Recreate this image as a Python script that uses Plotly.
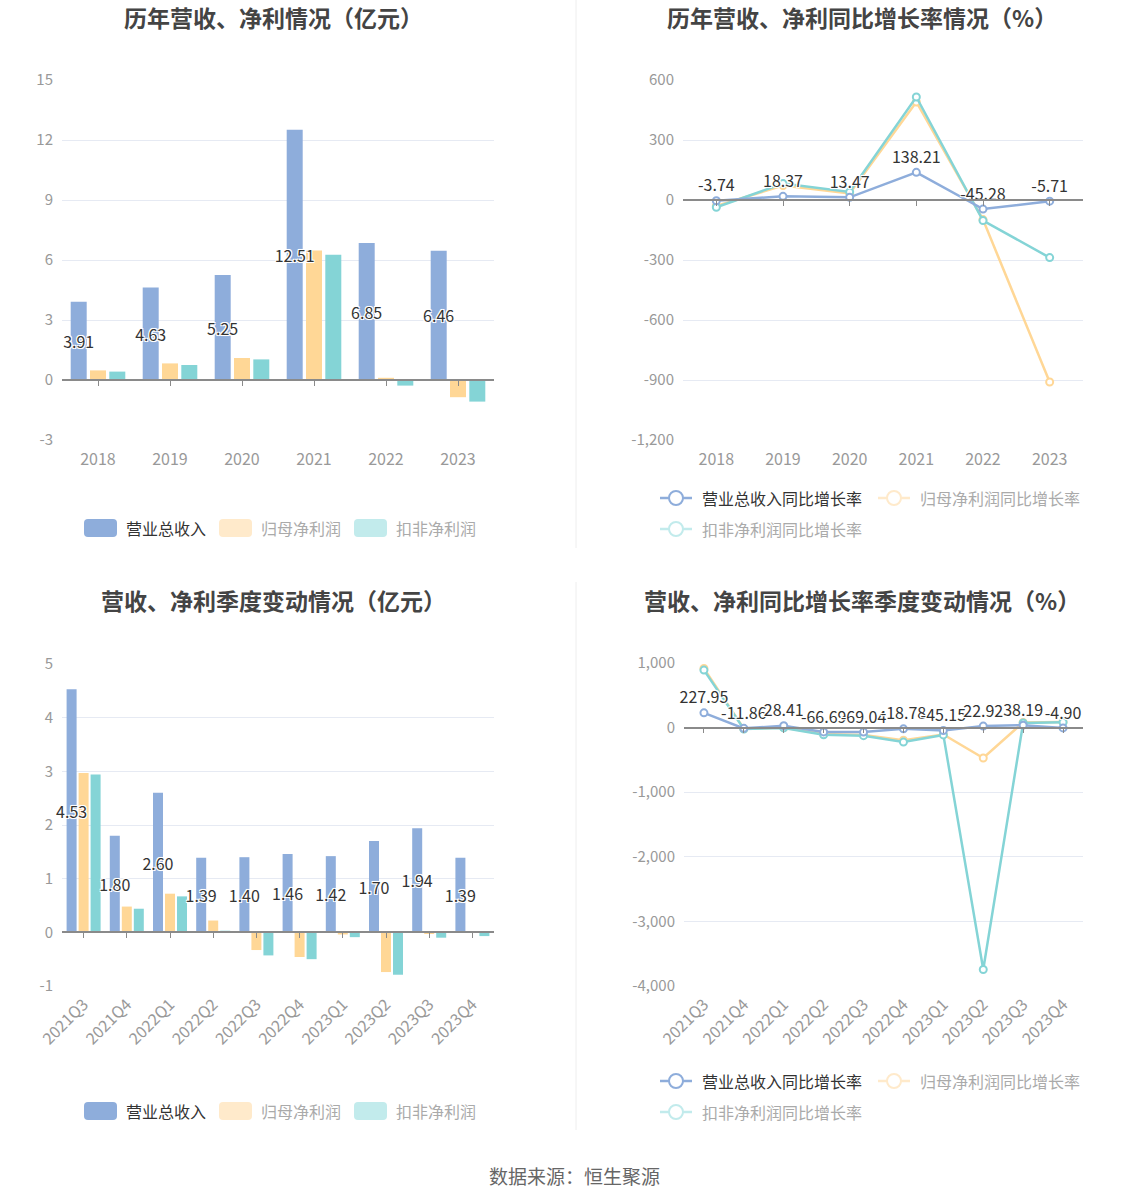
import plotly.graph_objects as go

# ---------------- data ----------------
years = ["2018", "2019", "2020", "2021", "2022", "2023"]
rev_annual = [3.91, 4.63, 5.25, 12.51, 6.85, 6.46]
np_annual = [0.48, 0.83, 1.10, 6.47, 0.11, -0.86]
dnp_annual = [0.42, 0.75, 1.03, 6.26, -0.28, -1.08]

rev_growth_annual = [-3.74, 18.37, 13.47, 138.21, -45.28, -5.71]
np_growth_annual = [-30, 72, 33, 490, -98, -910]
dnp_growth_annual = [-36, 82, 40, 515, -103, -288]

quarters = ["2021Q3", "2021Q4", "2022Q1", "2022Q2", "2022Q3",
            "2022Q4", "2023Q1", "2023Q2", "2023Q3", "2023Q4"]
rev_q = [4.53, 1.80, 2.60, 1.39, 1.40, 1.46, 1.42, 1.70, 1.94, 1.39]
np_q = [2.97, 0.48, 0.72, 0.22, -0.33, -0.46, -0.04, -0.74, -0.03, -0.01]
dnp_q = [2.94, 0.44, 0.67, 0.03, -0.43, -0.50, -0.09, -0.79, -0.10, -0.07]

rev_growth_q = [227.95, -11.86, 28.41, -66.69, -69.04, -18.78, -45.15, 22.92, 38.19, -4.90]
np_growth_q = [915, -18, 2, -100, -115, -196, -106, -470, 80, 88]
dnp_growth_q = [890, -22, -5, -110, -125, -224, -113, -3745, 73, 83]

# y tick values / labels
yt1_vals = [-3, 0, 3, 6, 9, 12, 15]
yt1_text = ["-3", "0", "3", "6", "9", "12", "15"]
yt2_vals = [-1200, -900, -600, -300, 0, 300, 600]
yt2_text = ["-1,200", "-900", "-600", "-300", "0", "300", "600"]
yt3_vals = [-1, 0, 1, 2, 3, 4, 5]
yt3_text = ["-1", "0", "1", "2", "3", "4", "5"]
yt4_vals = [-4000, -3000, -2000, -1000, 0, 1000]
yt4_text = ["-4,000", "-3,000", "-2,000", "-1,000", "0", "1,000"]

titles = ["历年营收、净利情况（亿元）", "历年营收、净利同比增长率情况（%）",
          "营收、净利季度变动情况（亿元）", "营收、净利同比增长率季度变动情况（%）"]
bar_names = ["营业总收入", "归母净利润", "扣非净利润"]
line_names = ["营业总收入同比增长率", "归母净利润同比增长率", "扣非净利润同比增长率"]
source_text = "数据来源：恒生聚源"

# ---------------- style ----------------
W, H = 1148, 1202
FONT = "Noto Sans CJK SC"
C_BLUE, C_YEL, C_TEAL = "#8EADDB", "#FFD796", "#84D4D6"
C_YEL_P, C_TEAL_P = "#FFEACB", "#C2EBEC"
GRID = "#E6EAF3"
AXIS = "#8A8A8A"
TICKC = "#999999"
HALO = "-1px -1px 0 #fff, 1px -1px 0 #fff, -1px 1px 0 #fff, 1px 1px 0 #fff, 0 0 2px #fff"


def px_x(p):
    return p / W


def px_y(p):
    return 1 - p / H


panels = [
    dict(x=(62, 494), y=(80, 440), rng=[-3, 15], tv=yt1_vals, tt=yt1_text),
    dict(x=(683, 1083), y=(80, 440), rng=[-1200, 600], tv=yt2_vals, tt=yt2_text),
    dict(x=(62, 494), y=(664, 986), rng=[-1, 5], tv=yt3_vals, tt=yt3_text),
    dict(x=(684, 1083), y=(663, 986), rng=[-4000, 1000], tv=yt4_vals, tt=yt4_text),
]

fig = go.Figure()
layout = dict(
    width=W, height=H, margin=dict(l=0, r=0, t=0, b=0, autoexpand=False),
    paper_bgcolor="white", plot_bgcolor="white",
    font=dict(family=FONT, color="#333"),
    showlegend=False, barmode="overlay", template="none",
)

cats_list = [years, years, quarters, quarters]
for i, p in enumerate(panels, start=1):
    cats = cats_list[i - 1]
    n = len(cats)
    xd = [px_x(p["x"][0]), px_x(p["x"][1])]
    yd = [px_y(p["y"][1]), px_y(p["y"][0])]
    rotated = i >= 3
    layout[f"xaxis{i}"] = dict(
        domain=xd, anchor=f"y{i}", type="category", range=[-0.5, n - 0.5],
        showgrid=False, showline=False, ticks="", zeroline=False, automargin=False,
        tickfont=dict(size=16, color=TICKC, family=FONT),
        tickangle=-45 if rotated else 0, ticklabelstandoff=5 if rotated else 8,
    )
    layout[f"yaxis{i}"] = dict(
        domain=yd, anchor=f"x{i}", range=p["rng"], tickvals=p["tv"], ticktext=p["tt"],
        showgrid=True, gridcolor=GRID, gridwidth=1, zeroline=False, showline=False,
        tickfont=dict(size=15, color=TICKC, family=FONT), automargin=False,
        ticklabelstandoff=8, ticks="",
    )
    zero_frac = yd[0] + (0 - p["rng"][0]) / (p["rng"][1] - p["rng"][0]) * (yd[1] - yd[0])
    layout[f"xaxis{i + 4}"] = dict(
        overlaying=f"x{i}", anchor="free", position=zero_frac, domain=xd,
        range=[-0.5, n - 0.5], tickvals=list(range(n)), showticklabels=False,
        ticks="outside", ticklen=5, tickcolor=AXIS, tickwidth=1, automargin=False,
        showline=True, linecolor=AXIS, linewidth=1.5, showgrid=False, zeroline=False,
    )
    fig.add_trace(go.Scatter(x=[], y=[], xaxis=f"x{i + 4}", yaxis=f"y{i}",
                             showlegend=False, hoverinfo="skip"))


# ---------------- bars ----------------
def add_bars(idx, cats, rev, npv, dnp, bw, stride):
    off_blue = -stride - bw / 2
    off_yel = -bw / 2
    off_teal = stride - bw / 2
    fig.add_trace(go.Bar(x=cats, y=npv, name=bar_names[1], marker_color=C_YEL,
                         width=bw, offset=off_yel, xaxis=f"x{idx}", yaxis=f"y{idx}"))
    fig.add_trace(go.Bar(x=cats, y=dnp, name=bar_names[2], marker_color=C_TEAL,
                         width=bw, offset=off_teal, xaxis=f"x{idx}", yaxis=f"y{idx}"))
    fig.add_trace(go.Bar(
        x=cats, y=rev, name=bar_names[0], marker_color=C_BLUE,
        width=bw, offset=off_blue, xaxis=f"x{idx}", yaxis=f"y{idx}",
        text=[f"{v:.2f}" for v in rev], textposition="inside",
        insidetextanchor="middle", textangle=0, constraintext="none",
        textfont=dict(size=16, color="#333", family=FONT, shadow=HALO),
        cliponaxis=False,
    ))


add_bars(1, years, rev_annual, np_annual, dnp_annual, bw=16 / 72, stride=19.3 / 72)
add_bars(3, quarters, rev_q, np_q, dnp_q, bw=10 / 43.2, stride=12 / 43.2)


# ---------------- lines ----------------
def add_lines(idx, cats, g_rev, g_np, g_dnp):
    for vals, col, name in [(g_np, C_YEL, line_names[1]), (g_dnp, C_TEAL, line_names[2])]:
        fig.add_trace(go.Scatter(
            x=cats, y=vals, name=name, mode="lines+markers",
            line=dict(color=col, width=2.5),
            marker=dict(symbol="circle", size=7, color="white", line=dict(color=col, width=2)),
            xaxis=f"x{idx}", yaxis=f"y{idx}", cliponaxis=False,
        ))
    fig.add_trace(go.Scatter(
        x=cats, y=g_rev, name=line_names[0], mode="lines+markers+text",
        line=dict(color=C_BLUE, width=2.5),
        marker=dict(symbol="circle", size=7, color="white", line=dict(color=C_BLUE, width=2)),
        text=[f"{v:.2f}" for v in g_rev], textposition="top center",
        textfont=dict(size=16, color="#333", family=FONT, shadow=HALO),
        xaxis=f"x{idx}", yaxis=f"y{idx}", cliponaxis=False,
    ))


add_lines(2, years, rev_growth_annual, np_growth_annual, dnp_growth_annual)
add_lines(4, quarters, rev_growth_q, np_growth_q, dnp_growth_q)

# ---------------- titles / source ----------------
annotations = []
title_pos = [(273, 17), (862, 17), (273, 600), (862, 600)]
for t, (cx, cy) in zip(titles, title_pos):
    annotations.append(dict(text=f"<b>{t}</b>", x=px_x(cx), y=px_y(cy), xref="paper", yref="paper",
                            xanchor="center", yanchor="middle", showarrow=False,
                            font=dict(size=23, color="#444444", family=FONT)))
annotations.append(dict(text=source_text, x=px_x(574), y=px_y(1175), xref="paper", yref="paper",
                        xanchor="center", yanchor="middle", showarrow=False,
                        font=dict(size=19, color="#666666", family=FONT)))

shapes = []
for (y0, y1) in [(0, 548), (582, 1130)]:
    shapes.append(dict(type="line", xref="paper", yref="paper", x0=px_x(576), x1=px_x(576),
                       y0=px_y(y0), y1=px_y(y1), line=dict(color="#EEEEEE", width=1)))


def rrect(x0, y0, x1, y1, r):
    def P(x, y):
        return f"{px_x(x):.5f},{px_y(y):.5f}"
    return (f"M {P(x0 + r, y0)} L {P(x1 - r, y0)} Q {P(x1, y0)} {P(x1, y0 + r)} "
            f"L {P(x1, y1 - r)} Q {P(x1, y1)} {P(x1 - r, y1)} L {P(x0 + r, y1)} "
            f"Q {P(x0, y1)} {P(x0, y1 - r)} L {P(x0, y0 + r)} Q {P(x0, y0)} {P(x0 + r, y0)} Z")


bar_leg_cols = [C_BLUE, C_YEL_P, C_TEAL_P]
bar_leg_txt = ["#333333", "#AAAAAA", "#AAAAAA"]
bar_leg_x = [84, 219, 354]
for ly in [528, 1111]:
    for name, col, tc, lx in zip(bar_names, bar_leg_cols, bar_leg_txt, bar_leg_x):
        shapes.append(dict(type="path", xref="paper", yref="paper",
                           path=rrect(lx, ly - 9, lx + 33, ly + 9, 4),
                           fillcolor=col, line=dict(width=0)))
        annotations.append(dict(text=name, x=px_x(lx + 40), y=px_y(ly), xref="paper", yref="paper",
                                xanchor="left", yanchor="middle", showarrow=False,
                                font=dict(size=16, color=tc, family=FONT)))

line_leg_cols = [C_BLUE, C_YEL_P, C_TEAL_P]
line_leg_txt = ["#333333", "#AAAAAA", "#AAAAAA"]
for base in [498, 1081]:
    pos = [(660, base), (878, base), (660, base + 31)]
    for name, col, tc, (lx, ly) in zip(line_names, line_leg_cols, line_leg_txt, pos):
        shapes.append(dict(type="line", xref="paper", yref="paper", x0=px_x(lx), x1=px_x(lx + 32),
                           y0=px_y(ly), y1=px_y(ly), line=dict(color=col, width=2.5)))
        shapes.append(dict(type="circle", xref="paper", yref="paper",
                           x0=px_x(lx + 9), x1=px_x(lx + 23), y0=px_y(ly + 7), y1=px_y(ly - 7),
                           fillcolor="white", line=dict(color=col, width=2)))
        annotations.append(dict(text=name, x=px_x(lx + 40), y=px_y(ly), xref="paper", yref="paper",
                                xanchor="left", yanchor="middle", showarrow=False,
                                font=dict(size=16, color=tc, family=FONT)))

layout["annotations"] = annotations
layout["shapes"] = shapes
fig.update_layout(**layout)

fig.write_html("out.html", config={"displayModeBar": False},
               post_script="document.body.style.margin='0';document.body.style.overflow='hidden';")
